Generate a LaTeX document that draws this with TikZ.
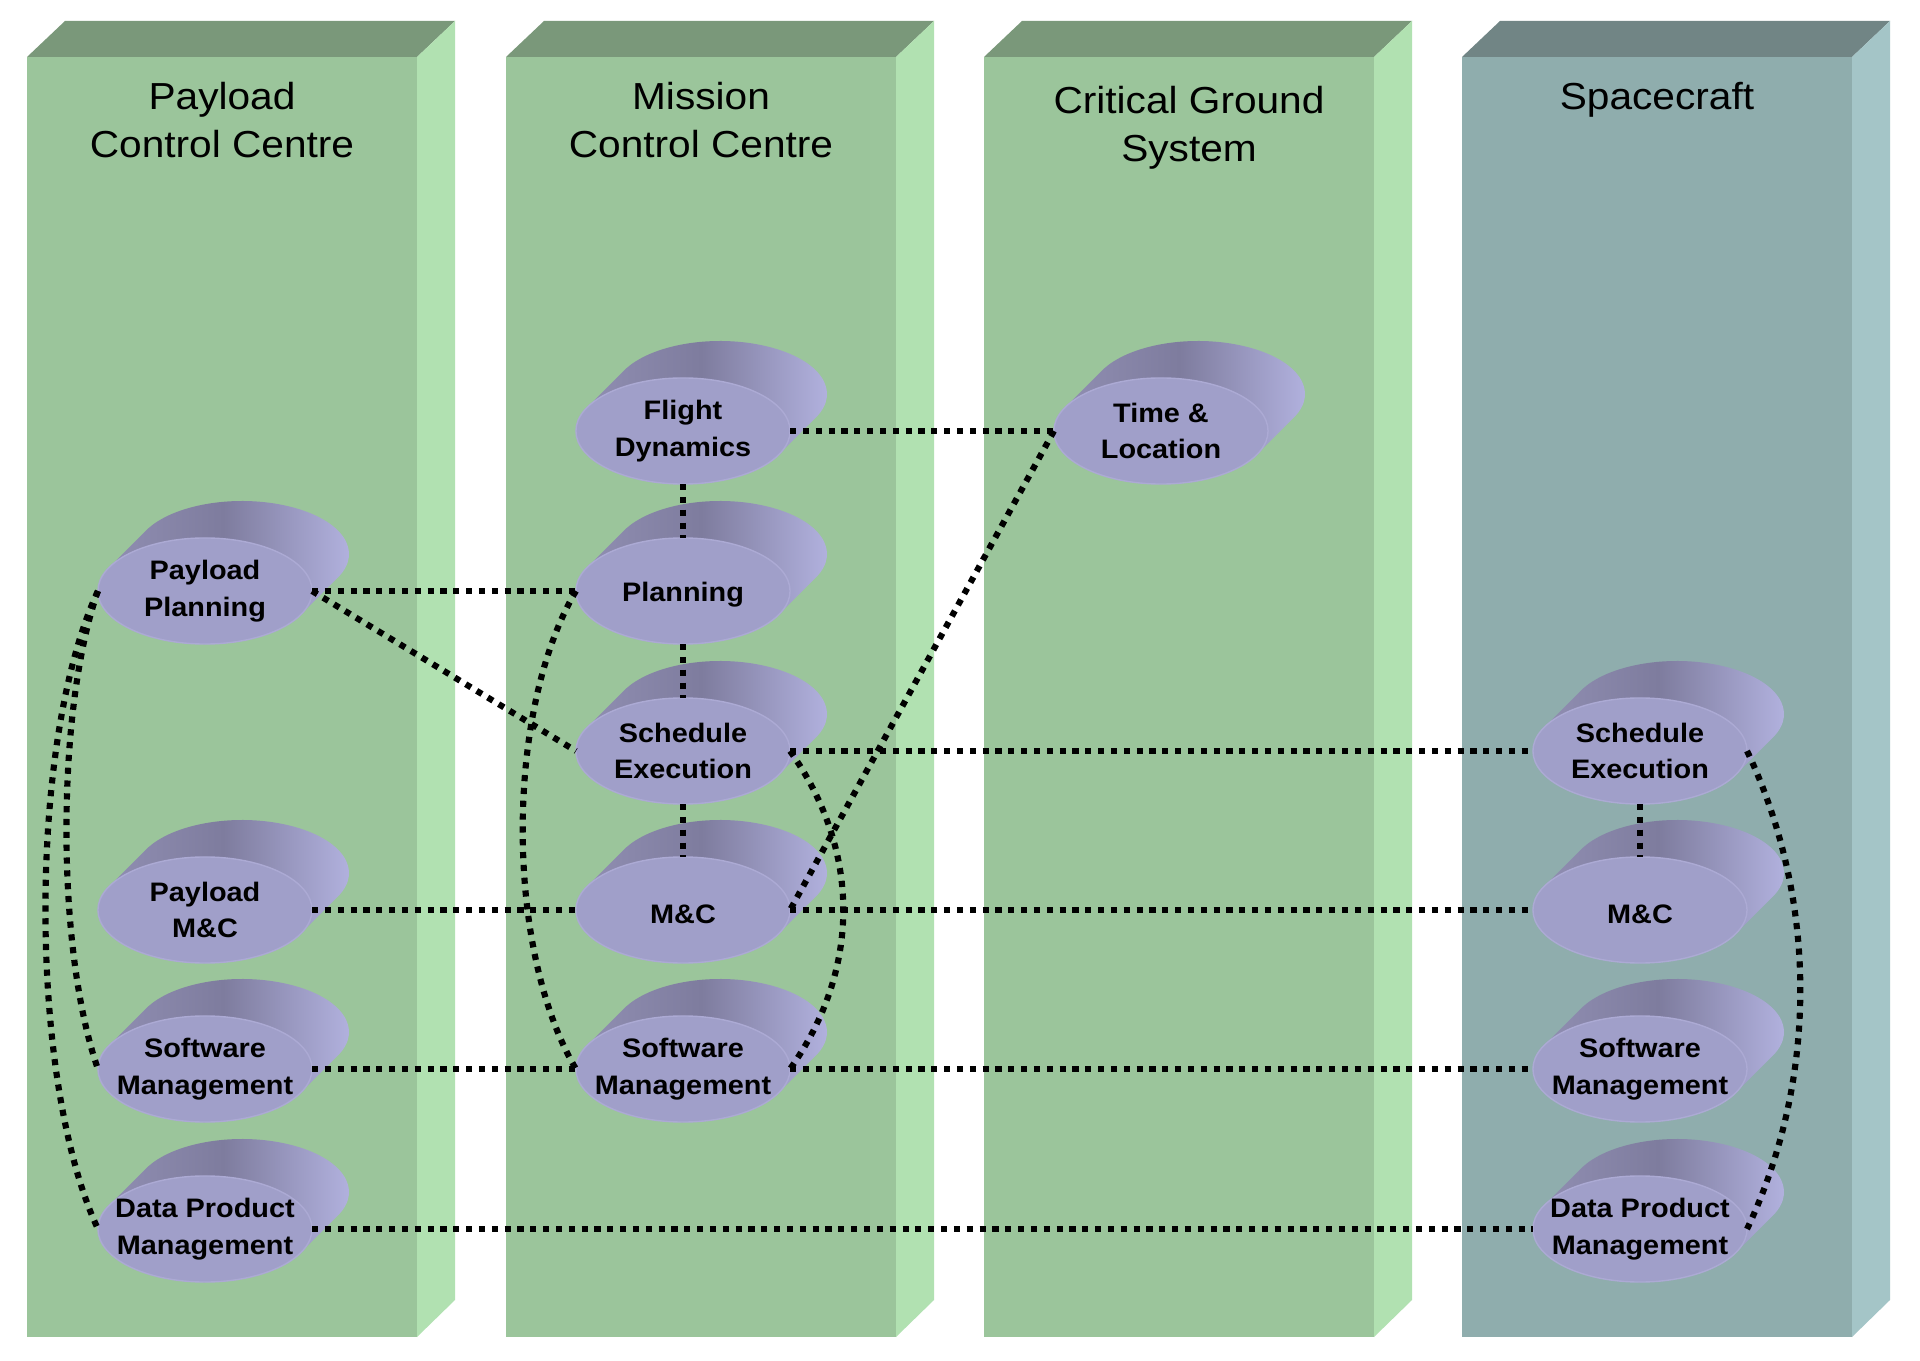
\documentclass[tikz,border=0pt]{standalone}
\usepackage{fontspec}
\setmainfont{Liberation Sans}[FakeStretch=1.08]
\usetikzlibrary{shapes.geometric}
\definecolor{grnfront}{HTML}{9BC59B}
\definecolor{grntop}{HTML}{7A987A}
\definecolor{grnside}{HTML}{B1E1B1}
\definecolor{scfront}{HTML}{8FADAD}
\definecolor{sctop}{HTML}{718585}
\definecolor{scside}{HTML}{A4C5C7}
\definecolor{diskfront}{HTML}{A09FC9}
\definecolor{diskedge}{HTML}{ACAAD4}
\definecolor{diskleft}{HTML}{9492B6}
\definecolor{diskmid}{HTML}{7E7C9E}
\definecolor{diskright}{HTML}{B7B7E5}
\newcommand{\slabwidth}{390}
\tikzstyle{disk}=[ellipse, fill=diskfront, draw=diskedge, line width=0.4pt, outer sep=0,
                  inner xsep=-0.25cm, inner ysep=0, minimum width=2.14cm, minimum height=1.06cm, align=center,
                  font=\fontsize{7.6}{10.4}\selectfont\bfseries,
                  % push the text a little lower in the face
                  execute at begin node={\rule{0pt}{7.8pt}}]
\tikzstyle{diskbody}=[left color=diskleft, right color=diskright, middle color=diskmid]
\tikzstyle{link}=[line width=1.75pt, dash pattern=on 1.75pt off 1.9pt]
\tikzstyle{title}=[anchor=north, align=center, inner sep=0, font=\fontsize{10.7}{13.4}\selectfont]
% one block of the back row: front face, top and side
\newcommand{\slab}[2]{%
  \fill[#2front] (#1,57) rectangle ++(\slabwidth,1280);
  \fill[#2top] (#1,57) -- ++(38,-36) -- ++(\slabwidth,0) -- ++(-38,36) -- cycle;
  \fill[#2side] (#1+\slabwidth,57) -- ++(38,-36) -- ++(0,1279) -- ++(-38,37) -- cycle;
}
% a tilted disk: body first, then the named front face
\newcommand{\disk}[3]{%
  \path[diskbody] (#2) ++(206.3:107 and 53)
    arc[start angle=206.3, end angle=26.3, x radius=107, y radius=53] -- ++(37,-37)
    arc[start angle=26.3, end angle=-153.7, x radius=107, y radius=53] -- cycle;
  \node[disk] (#1) at (#2) {#3};
}
\begin{document}
\begin{tikzpicture}[x=0.01cm, y=-0.01cm]
        \useasboundingbox (0,0) rectangle (1920,1361);
        \fill[white] (0,0) rectangle (1920,1361);
        \slab{27}{grn}
        \slab{506}{grn}
        \slab{984}{grn}
        \slab{1462}{sc}
        \node[title] (pcc) at (222,82) {Payload\\Control Centre};
        \node[title] (mcc) at (701,82) {Mission\\Control Centre};
        \node[title] (cgs) at (1189,86) {Critical Ground\\System};
        \node[title] (sc) at (1657,82) {Spacecraft};
        % payload control centre
        \disk{ppl}{205,591}{Payload\\Planning}
        \disk{pmc}{205,910}{Payload\\M\&C}
        \disk{psw}{205,1069}{Software\\Management}
        \disk{pdp}{205,1229}{Data Product\\Management}
        % mission control centre
        \disk{fd}{683,431}{Flight\\Dynamics}
        \disk{pln}{683,591}{Planning}
        \disk{mse}{683,751}{Schedule\\Execution}
        \disk{mmc}{683,910}{M\&C}
        \disk{msw}{683,1069}{Software\\Management}
        % critical ground system
        \disk{tl}{1161,431}{Time \&\\Location}
        % spacecraft
        \disk{sse}{1640,751}{Schedule\\Execution}
        \disk{smc}{1640,910}{M\&C}
        \disk{ssw}{1640,1069}{Software\\Management}
        \disk{sdp}{1640,1229}{Data Product\\Management}
        % links
        \draw[link] (fd.east) -- (tl.west);
        \draw[link] (fd.south) -- (pln.north);
        \draw[link] (pln.south) -- (mse.north);
        \draw[link] (mse.south) -- (mmc.north);
        \draw[link] (sse.south) -- (smc.north);
        \draw[link] (ppl.east) -- (pln.west);
        \draw[link] (ppl.east) -- (mse.west);
        \draw[link] (pmc.east) -- (mmc.west);
        \draw[link] (psw.east) -- (msw.west);
        \draw[link] (pdp.east) -- (sdp.west);
        \draw[link] (mse.east) -- (sse.west);
        \draw[link] (mmc.east) -- (smc.west);
        \draw[link] (msw.east) -- (ssw.west);
        \draw[link] (tl.west) -- (mmc.east);
        \draw[link] (ppl.west) .. controls +(-70,150) and +(-70,-150) .. (pdp.west);
        \draw[link] (ppl.west) .. controls +(-42,120) and +(-42,-120) .. (psw.west);
        \draw[link] (pln.west) .. controls +(-71,120) and +(-71,-120) .. (msw.west);
        \draw[link] (mse.east) .. controls +(71,100) and +(71,-100) .. (msw.east);
        \draw[link] (sse.east) .. controls +(71,150) and +(71,-150) .. (sdp.east);
\end{tikzpicture}
\end{document}
